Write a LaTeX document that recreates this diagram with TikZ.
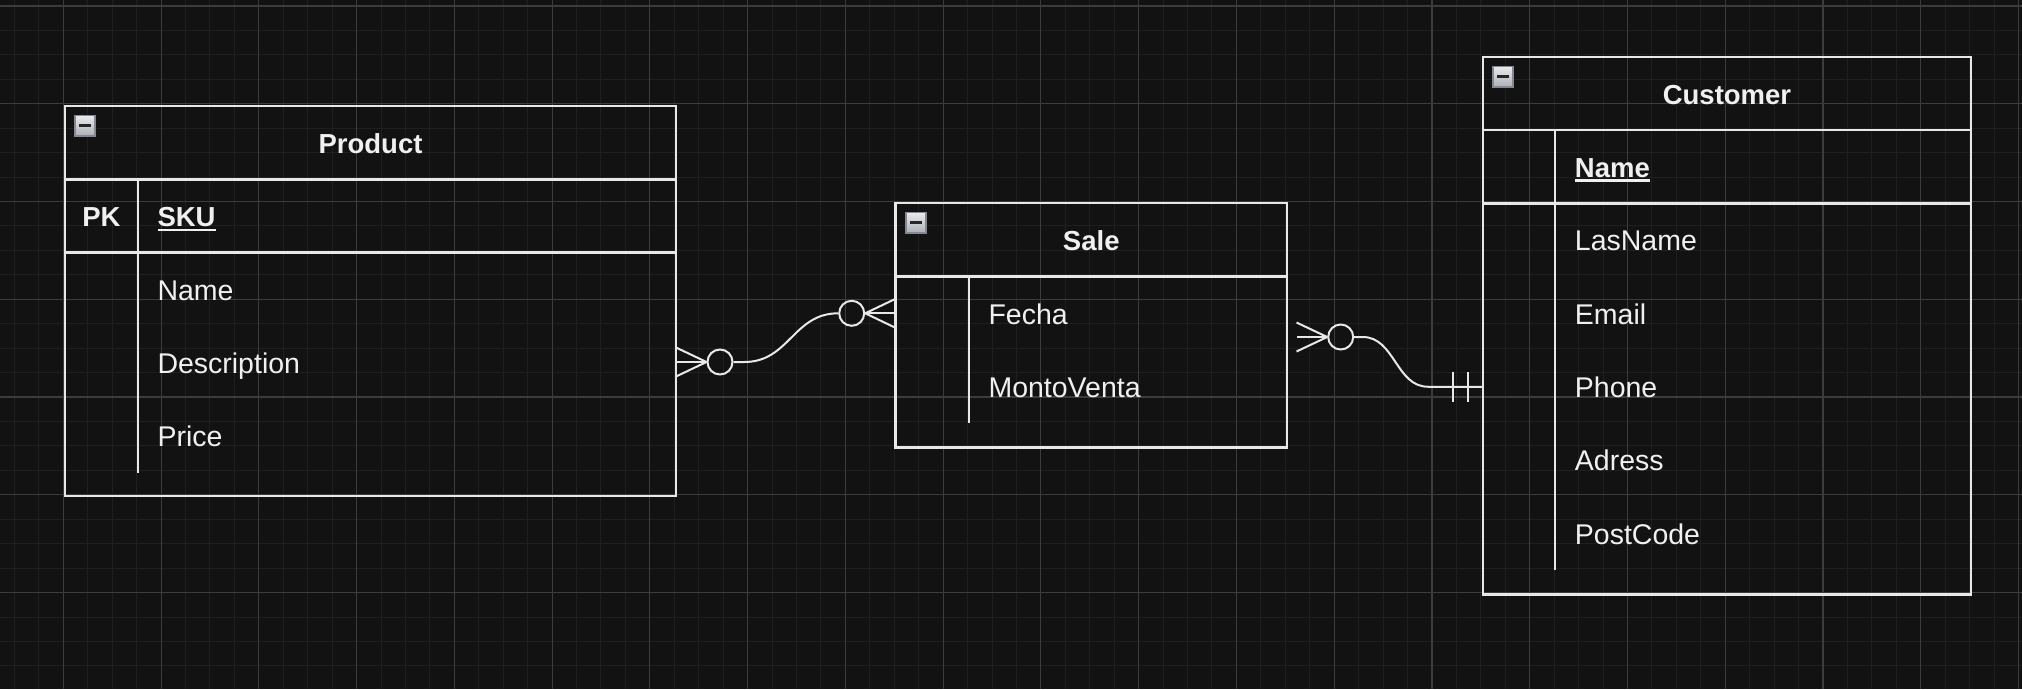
\documentclass[tikz,border=0pt]{standalone}
\usepackage{fontspec}
\setmainfont{Liberation Sans}
\usetikzlibrary{positioning}

\definecolor{canvas}{HTML}{121212}
\definecolor{gridminor}{HTML}{1F1F1F}
\definecolor{gridmajor}{HTML}{3C3C3C}
\definecolor{erline}{HTML}{E8E8E8}
\definecolor{ertext}{HTML}{F0F0F0}
\definecolor{btnedge}{HTML}{838893}
\definecolor{btntop}{HTML}{EBEBED}
\definecolor{btnbot}{HTML}{ADB0B7}

\newcommand{\keyfield}[1]{\setbox0=\hbox{#1}\rlap{\rule[-4.1pt]{\wd0}{2.3pt}}\box0}

\begin{document}
\begin{tikzpicture}[
    x=1pt, y=1pt,
    entity/.style={draw=erline, line width=2.5pt, rectangle, anchor=north west, inner sep=0pt, outer sep=0pt},
    etitle/.style={text=ertext, font=\fontsize{27.5}{33}\selectfont\bfseries, minimum height=73.3pt, text height=28pt, text depth=6.3pt, inner sep=0pt, outer sep=0pt},
    keycell/.style={etitle, minimum width=73pt},
    attr/.style={text=ertext, font=\fontsize{28.5}{34}\selectfont, minimum height=73.3pt, text height=28pt, text depth=6.3pt, text width=250pt, align=left, inner xsep=19.5pt, inner ysep=0pt, outer sep=0pt},
    keyattr/.style={attr, font=\fontsize{27.5}{33}\selectfont\bfseries},
    tline/.style={draw=erline, line width=2.5pt},
    divline/.style={draw=erline, line width=2pt},
    rel/.style={draw=erline, line width=2pt},
    opt/.style={circle, draw=erline, line width=2pt, minimum size=25pt, inner sep=0pt},
    minbtn/.style={draw=btnedge, line width=1.6pt, top color=btntop, bottom color=btnbot, minimum size=20.4pt, inner sep=0pt,
        path picture={\draw[black!85, line width=2.2pt] ([xshift=-6pt]path picture bounding box.center) -- ([xshift=6pt]path picture bounding box.center);}}
]

% Canvas and grid
\useasboundingbox (0,0) rectangle (2022,-689);
\fill[canvas] (0,0) rectangle (2022,-689);
\begin{scope}[shift={(63.3,-6)}]
\draw[gridminor, line width=1pt] (-63.3,-683) grid[step=24.44pt] (1958.7,6);
\draw[gridmajor, line width=1.1pt] (-63.3,-683) grid[step=97.76pt] (1958.7,6);
\end{scope}

% Product
\node[entity, minimum width=611pt, minimum height=390pt] (product) at (65,-106) {};
\node[etitle, below=0pt of product.north] (ptitle) {Product};
\node[minbtn] (pbtn) at ([xshift=20pt,yshift=-19.5pt]product.north west) {};
\node[keycell, anchor=north west] (pk) at ([yshift=-73.3pt]product.north west) {PK};
\node[keyattr, right=0pt of pk] (psku) {\keyfield{SKU}};
\node[attr, below=0pt of psku] (pname) {Name};
\node[attr, below=0pt of pname] (pdesc) {Description};
\node[attr, below=0pt of pdesc] (pprice) {Price};
\draw[tline] (product.west |- pk.north) -- (product.east |- pk.north);
\draw[tline] (product.west |- pk.south) -- (product.east |- pk.south);
\draw[divline] (pk.north east) -- (pprice.south west);

% Sale
\node[entity, minimum width=391.5pt, minimum height=244.3pt] (sale) at (895.5,-203) {};
\node[etitle, below=0pt of sale.north] (stitle) {Sale};
\node[minbtn] (sbtn) at ([xshift=20.5pt,yshift=-19.5pt]sale.north west) {};
\node[attr, anchor=north west] (sfecha) at ([xshift=73.5pt,yshift=-73.7pt]sale.north west) {Fecha};
\node[attr, below=0pt of sfecha] (smonto) {MontoVenta};
\draw[tline] (sale.west |- sfecha.north) -- (sale.east |- sfecha.north);
\draw[divline] (sfecha.north west) -- (smonto.south west);

% Customer
\node[entity, minimum width=488pt, minimum height=537.5pt] (customer) at (1483,-57) {};
\node[etitle, below=0pt of customer.north] (ctitle) {Customer};
\node[minbtn] (cbtn) at ([xshift=20pt,yshift=-19.5pt]customer.north west) {};
\node[keyattr, anchor=north west] (cname) at ([xshift=72.4pt,yshift=-73pt]customer.north west) {\keyfield{Name}};
\node[attr, below=0pt of cname] (clast) {LasName};
\node[attr, below=0pt of clast] (cmail) {Email};
\node[attr, below=0pt of cmail] (cphone) {Phone};
\node[attr, below=0pt of cphone] (caddr) {Adress};
\node[attr, below=0pt of caddr] (cpost) {PostCode};
\draw[tline] (customer.west |- cname.north) -- (customer.east |- cname.north);
\draw[tline] (customer.west |- cname.south) -- (customer.east |- cname.south);
\draw[divline] (cname.north west) -- (cpost.south west);

% Product -- Sale (zero or many on both sides)
\node[opt] (o1) at (720,-362) {};
\node[opt] (o2) at (851.7,-313.3) {};
\coordinate (pin) at (o1.west -| product.east);
\coordinate (sin) at (o2.east -| sale.west);
\draw[rel] (o1.west) -- (pin);
\draw[rel] (o1.west) -- ([yshift=14.5pt]pin);
\draw[rel] (o1.west) -- ([yshift=-14.5pt]pin);
\draw[rel] (o1.east) -- ++(10.8,0) .. controls +(45,0) and +(-45,0) .. (o2.west);
\draw[rel] (o2.east) -- (sin);
\draw[rel] (o2.east) -- ([yshift=14.5pt]sin);
\draw[rel] (o2.east) -- ([yshift=-14.5pt]sin);

% Sale -- Customer (zero or many / exactly one)
\node[opt] (o3) at (1340.7,-337) {};
\coordinate (sout) at (o3.west -| sale.east);
\coordinate (cin) at ([yshift=-61pt]customer.west);
\draw[rel] (o3.west) -- ([xshift=9.5pt]sout);
\draw[rel] (o3.west) -- ([xshift=9.5pt,yshift=14.5pt]sout);
\draw[rel] (o3.west) -- ([xshift=9.5pt,yshift=-14.5pt]sout);
\draw[rel] (o3.east) -- ++(8.5,0) .. controls +(32,0) and +(-32,0) .. ([xshift=-55pt]cin) -- (cin);
\draw[rel] ([xshift=-30pt,yshift=15pt]cin) -- ([xshift=-30pt,yshift=-15pt]cin);
\draw[rel] ([xshift=-15.5pt,yshift=15pt]cin) -- ([xshift=-15.5pt,yshift=-15pt]cin);

\end{tikzpicture}
\end{document}
